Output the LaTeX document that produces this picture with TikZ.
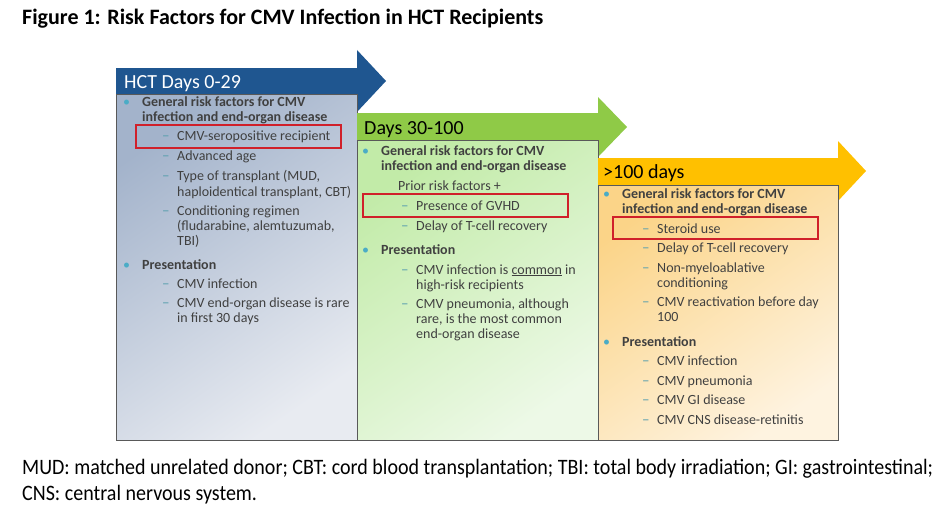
\documentclass[tikz,border=0pt]{standalone}
\usepackage{fontspec}
\setmainfont{Carlito}
\definecolor{txtgray}{HTML}{404040}
\definecolor{bulblue}{HTML}{4BACC6}
\definecolor{dashcol}{HTML}{5A9FAE}
\definecolor{bannerblue}{HTML}{1F5690}
\definecolor{bannergreen}{HTML}{8FCA47}
\definecolor{bannerorange}{HTML}{FFC000}
\definecolor{bluetl}{HTML}{A3B3CB}
\definecolor{bluebr}{HTML}{E8EBF1}
\definecolor{greentl}{HTML}{C2EBA8}
\definecolor{greenbr}{HTML}{EDF9E7}
\definecolor{orangetl}{HTML}{FBD488}
\definecolor{orangebr}{HTML}{FEF3E0}
\definecolor{boxline}{HTML}{595959}
\definecolor{redbox}{HTML}{D0202A}
\tikzset{
  txt/.style={anchor=base west, inner sep=0pt, text=txtgray, font=\fontsize{14}{16}\selectfont},
  bold/.style={txt, font=\fontsize{14}{16}\selectfont\bfseries},
  bul/.style={txt, text=bulblue},
  dsh/.style={txt, text=dashcol, font=\fontsize{15}{16}\selectfont},
  banner/.style={anchor=base west, inner sep=0pt, font=\fontsize{20}{22}\selectfont},
  panel/.style={draw=boxline, line width=0.7pt},
  hilite/.style={draw=redbox, line width=1.6pt},
}
\newcommand\mytxt[4]{\node[txt] (#1) at (#2,#3) {#4};}
\newcommand\mybold[4]{\node[bold] (#1) at (#2,#3) {#4};}
\newcommand\mybul[3]{\node[bul] (#1) at (#2,#3) {•};}
\newcommand\mydash[3]{\node[dsh] (#1) at (#2,#3) {–};}
\begin{document}
\begin{tikzpicture}[x=1pt,y=-1pt]
\useasboundingbox[fill=white] (0,0) rectangle (952,511);
% title
\node[anchor=base west, inner sep=0pt, font=\fontsize{22}{24}\selectfont\bfseries] (title) at (22,25) {Figure 1: Risk Factors for CMV Infection in HCT Recipients};
% blue arrow and panel
\fill[bannerblue] (116,68) -- (357,68) -- (357,50) -- (386,81) -- (357,112) -- (357,94) -- (116,94) -- cycle;
\shade[top color=bluetl, bottom color=bluebr, shading angle=35] (116,94) rectangle (357,440);
\draw[panel] (116,94) rectangle (357,440);
\node[banner, text=white] (h1) at (124,88) {HCT Days 0-29};
% green arrow and panel
\fill[bannergreen] (357,113) -- (598,113) -- (598,97) -- (627,127) -- (598,157) -- (598,140) -- (357,140) -- cycle;
\shade[top color=greentl, bottom color=greenbr, shading angle=35] (357,140) rectangle (598,440);
\draw[panel] (357,140) rectangle (598,440);
\node[banner, text=black] (h2) at (364,134) {Days 30-100};
% orange arrow and panel
\fill[bannerorange] (598,158) -- (838,158) -- (838,141) -- (866,171) -- (838,201) -- (838,185) -- (598,185) -- cycle;
\shade[top color=orangetl, bottom color=orangebr, shading angle=35] (598,185) rectangle (838,440);
\draw[panel] (598,185) rectangle (838,440);
\node[banner, text=black] (h3) at (603,178) {>100 days};
% blue panel text
\mybul{a0}{123}{106}
\mybold{a1}{142}{106}{General risk factors for CMV}
\mybold{a2}{142}{121}{infection and end-organ disease}
\mydash{ad1}{162}{140}\mytxt{a3}{177}{140}{CMV-seropositive recipient}
\mydash{ad2}{162}{160}\mytxt{a4}{177}{160}{Advanced age}
\mydash{ad3}{162}{180}\mytxt{a5}{177}{180}{Type of transplant (MUD,}
\mytxt{a6}{177}{196}{haploidentical transplant, CBT)}
\mydash{ad4}{162}{215}\mytxt{a7}{177}{215}{Conditioning regimen}
\mytxt{a8}{177}{230}{(fludarabine, alemtuzumab,}
\mytxt{a9}{177}{245}{TBI)}
\mybul{ab2}{123}{269}
\mybold{a10}{142}{269}{Presentation}
\mydash{ad5}{162}{288}\mytxt{a11}{177}{288}{CMV infection}
\mydash{ad6}{162}{307}\mytxt{a12}{177}{307}{CMV end-organ disease is rare}
\mytxt{a13}{177}{322}{in first 30 days}
\draw[hilite] (136,125) rectangle (341,148);
% green panel text
\mybul{b0}{362}{155}
\mybold{b1}{381}{155}{General risk factors for CMV}
\mybold{b2}{381}{170}{infection and end-organ disease}
\mytxt{b3}{398}{190}{Prior risk factors +}
\mydash{bd1}{401}{210}\mytxt{b4}{416}{210}{Presence of GVHD}
\mydash{bd2}{401}{230}\mytxt{b5}{416}{230}{Delay of T-cell recovery}
\mybul{bb2}{362}{254}
\mybold{b6}{381}{254}{Presentation}
\mydash{bd3}{401}{274}\mytxt{b7}{416}{274}{CMV infection is \underline{common} in}
\mytxt{b8}{416}{289}{high-risk recipients}
\mydash{bd4}{401}{308}\mytxt{b9}{416}{308}{CMV pneumonia, although}
\mytxt{b10}{416}{323}{rare, is the most common}
\mytxt{b11}{416}{338}{end-organ disease}
\draw[hilite] (363,194) rectangle (568,217);
% orange panel text
\mybul{c0}{603}{198}
\mybold{c1}{622}{198}{General risk factors for CMV}
\mybold{c2}{622}{213}{infection and end-organ disease}
\mydash{cd1}{642}{233}\mytxt{c3}{657}{233}{Steroid use}
\mydash{cd2}{642}{252}\mytxt{c4}{657}{252}{Delay of T-cell recovery}
\mydash{cd3}{642}{272}\mytxt{c5}{657}{272}{Non-myeloablative}
\mytxt{c6}{657}{287}{conditioning}
\mydash{cd4}{642}{306}\mytxt{c7}{657}{306}{CMV reactivation before day}
\mytxt{c8}{657}{321}{100}
\mybul{cb2}{603}{346}
\mybold{c9}{622}{346}{Presentation}
\mydash{cd5}{642}{365}\mytxt{c10}{657}{365}{CMV infection}
\mydash{cd6}{642}{385}\mytxt{c11}{657}{385}{CMV pneumonia}
\mydash{cd7}{642}{404}\mytxt{c12}{657}{404}{CMV GI disease}
\mydash{cd8}{642}{424}\mytxt{c13}{657}{424}{CMV CNS disease-retinitis}
\draw[hilite] (613,217) rectangle (818,239);
% footer
\node[anchor=base west, inner sep=0pt, font=\fontsize{22}{24}\selectfont] (f1) at (22,474) {\scalebox{0.91}[1]{MUD: matched unrelated donor; CBT: cord blood transplantation; TBI: total body irradiation; GI: gastrointestinal;}};
\node[anchor=base west, inner sep=0pt, font=\fontsize{22}{24}\selectfont] (f2) at (22,500) {\scalebox{0.91}[1]{CNS: central nervous system.}};
\end{tikzpicture}
\end{document}
